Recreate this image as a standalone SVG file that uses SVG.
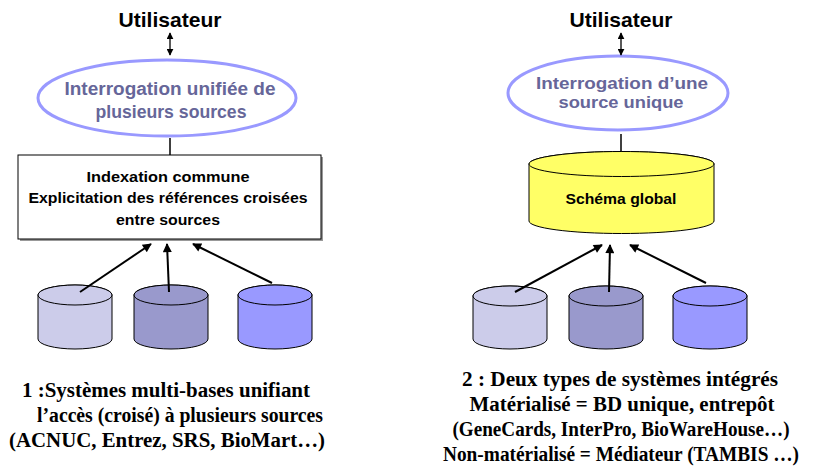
<svg xmlns="http://www.w3.org/2000/svg" width="821" height="466" viewBox="0 0 821 466">
<style>
.user{font-family:"Liberation Sans",Arial,sans-serif;font-weight:bold;font-size:21px;fill:#000;text-anchor:middle}
.q{font-family:"Liberation Sans",Arial,sans-serif;font-weight:bold;font-size:18px;fill:#666699;text-anchor:middle}
.q2{font-family:"Liberation Sans",Arial,sans-serif;font-weight:bold;font-size:17px;fill:#666699;text-anchor:middle}
.bx{font-family:"Liberation Sans",Arial,sans-serif;font-weight:bold;font-size:15px;fill:#000;text-anchor:middle}
.cap{font-family:"Liberation Serif","Times New Roman",serif;font-weight:bold;font-size:20px;fill:#000;text-anchor:middle}
.ell{fill:#fff;stroke:#9999ff;stroke-width:3}
.cyl{stroke:#000;stroke-width:1}
.c1{fill:#ccccea}.c2{fill:#9999cc}.c3{fill:#9999ff}
.dbl{stroke:#000;stroke-width:1.3;fill:none}
.arr{stroke:#000;stroke-width:2;fill:none}
.ln{stroke:#000;stroke-width:1.5;fill:none}
</style>
<defs>
<marker id="sm" viewBox="0 0 10 10" refX="9" refY="5" markerWidth="7" markerHeight="7" orient="auto-start-reverse" markerUnits="userSpaceOnUse">
<path d="M0,0 L10,5 L0,10 z" fill="#000"/>
</marker>
<marker id="ah" viewBox="0 0 10 10" refX="9" refY="5" markerWidth="11" markerHeight="9" orient="auto" markerUnits="userSpaceOnUse">
<path d="M0,0 L10,5 L0,10 z" fill="#000"/>
</marker>
</defs>

<!-- Left diagram -->
<g id="user1"><text class="user" x="170" y="27" textLength="103" lengthAdjust="spacingAndGlyphs">Utilisateur</text></g>
<g id="query1">
<ellipse class="ell" cx="167" cy="98" rx="129" ry="38"/>
<text class="q" x="170" y="95" textLength="211" lengthAdjust="spacingAndGlyphs">Interrogation unifiée de</text>
<text class="q" x="171" y="118" textLength="151" lengthAdjust="spacingAndGlyphs">plusieurs sources</text>
</g>
<g id="index1">
<rect x="20" y="157" width="303" height="84" fill="#999"/>
<rect x="18" y="155" width="303" height="84" fill="#fff" stroke="#000" stroke-width="1"/>
<text class="bx" x="168" y="182" textLength="163" lengthAdjust="spacingAndGlyphs">Indexation commune</text>
<text class="bx" x="168" y="203" textLength="279" lengthAdjust="spacingAndGlyphs">Explicitation des références croisées</text>
<text class="bx" x="168" y="225" textLength="104" lengthAdjust="spacingAndGlyphs">entre sources</text>
</g>
<g id="db1a"><path class="cyl c1" d="M38,295 L38,339 A37,10 0 0 0 112,339 L112,295 A37,10 0 0 0 38,295 Z"/><ellipse class="cyl c1" cx="75" cy="295" rx="37" ry="10"/></g>
<g id="db1b"><path class="cyl c2" d="M134,295 L134,339 A37,10 0 0 0 208,339 L208,295 A37,10 0 0 0 134,295 Z"/><ellipse class="cyl c2" cx="171" cy="295" rx="37" ry="10"/></g>
<g id="db1c"><path class="cyl c3" d="M238,295 L238,339 A37,10 0 0 0 312,339 L312,295 A37,10 0 0 0 238,295 Z"/><ellipse class="cyl c3" cx="275" cy="295" rx="37" ry="10"/></g>
<g id="caption1">
<text class="cap" x="166" y="397" textLength="288" lengthAdjust="spacingAndGlyphs">1 :Systèmes multi-bases unifiant</text>
<text class="cap" x="180" y="422" textLength="286" lengthAdjust="spacingAndGlyphs">l’accès (croisé) à plusieurs sources</text>
<text class="cap" x="167" y="447" textLength="316" lengthAdjust="spacingAndGlyphs">(ACNUC, Entrez, SRS, BioMart…)</text>
</g>

<!-- Right diagram -->
<g id="user2"><text class="user" x="621" y="27" textLength="103" lengthAdjust="spacingAndGlyphs">Utilisateur</text></g>
<g id="query2">
<ellipse class="ell" cx="618" cy="93" rx="110" ry="37"/>
<text class="q2" x="622" y="89" textLength="172" lengthAdjust="spacingAndGlyphs">Interrogation d’une</text>
<text class="q2" x="621" y="108" textLength="125" lengthAdjust="spacingAndGlyphs">source unique</text>
</g>
<g id="global">
<path d="M529,164 L529,221 A92.5,12.5 0 0 0 714,221 L714,164 A92.5,12.5 0 0 0 529,164 Z" fill="#ffff66" stroke="#000" stroke-width="1"/>
<ellipse cx="621.5" cy="164" rx="92.5" ry="12.5" fill="#ffff66" stroke="#000" stroke-width="1"/>
<text class="bx" x="621" y="204" textLength="111" lengthAdjust="spacingAndGlyphs">Schéma global</text>
</g>
<g id="db2a"><path class="cyl c1" d="M473,296 L473,339 A37,10 0 0 0 547,339 L547,296 A37,10 0 0 0 473,296 Z"/><ellipse class="cyl c1" cx="510" cy="296" rx="37" ry="10"/></g>
<g id="db2b"><path class="cyl c2" d="M569,296 L569,339 A37,10 0 0 0 643,339 L643,296 A37,10 0 0 0 569,296 Z"/><ellipse class="cyl c2" cx="606" cy="296" rx="37" ry="10"/></g>
<g id="db2c"><path class="cyl c3" d="M673,296 L673,339 A37,10 0 0 0 747,339 L747,296 A37,10 0 0 0 673,296 Z"/><ellipse class="cyl c3" cx="710" cy="296" rx="37" ry="10"/></g>
<g id="caption2">
<text class="cap" x="620" y="386" textLength="316" lengthAdjust="spacingAndGlyphs">2 : Deux types de systèmes intégrés</text>
<text class="cap" x="622" y="411" textLength="305" lengthAdjust="spacingAndGlyphs">Matérialisé = BD unique, entrepôt</text>
<text class="cap" x="621" y="436" textLength="337" lengthAdjust="spacingAndGlyphs">(GeneCards, InterPro, BioWareHouse…)</text>
<text class="cap" x="621" y="461" textLength="356" lengthAdjust="spacingAndGlyphs">Non-matérialisé = Médiateur  (TAMBIS …)</text>
</g>

<g id="connectors">
<line class="dbl" x1="170" y1="33" x2="170" y2="55" marker-start="url(#sm)" marker-end="url(#sm)"/>
<line class="ln" x1="170" y1="138" x2="170" y2="155"/>
<line class="arr" x1="80" y1="292" x2="151" y2="244" marker-end="url(#ah)"/>
<line class="arr" x1="169" y1="292" x2="167" y2="244" marker-end="url(#ah)"/>
<line class="arr" x1="272" y1="283" x2="193" y2="244" marker-end="url(#ah)"/>
<line class="dbl" x1="621" y1="33" x2="621" y2="55" marker-start="url(#sm)" marker-end="url(#sm)"/>
<line class="ln" x1="621" y1="134" x2="621" y2="152"/>
<line class="arr" x1="515" y1="292" x2="602" y2="245" marker-end="url(#ah)"/>
<line class="arr" x1="609" y1="292" x2="610" y2="245" marker-end="url(#ah)"/>
<line class="arr" x1="706" y1="283" x2="630" y2="245" marker-end="url(#ah)"/>
</g>
</svg>
